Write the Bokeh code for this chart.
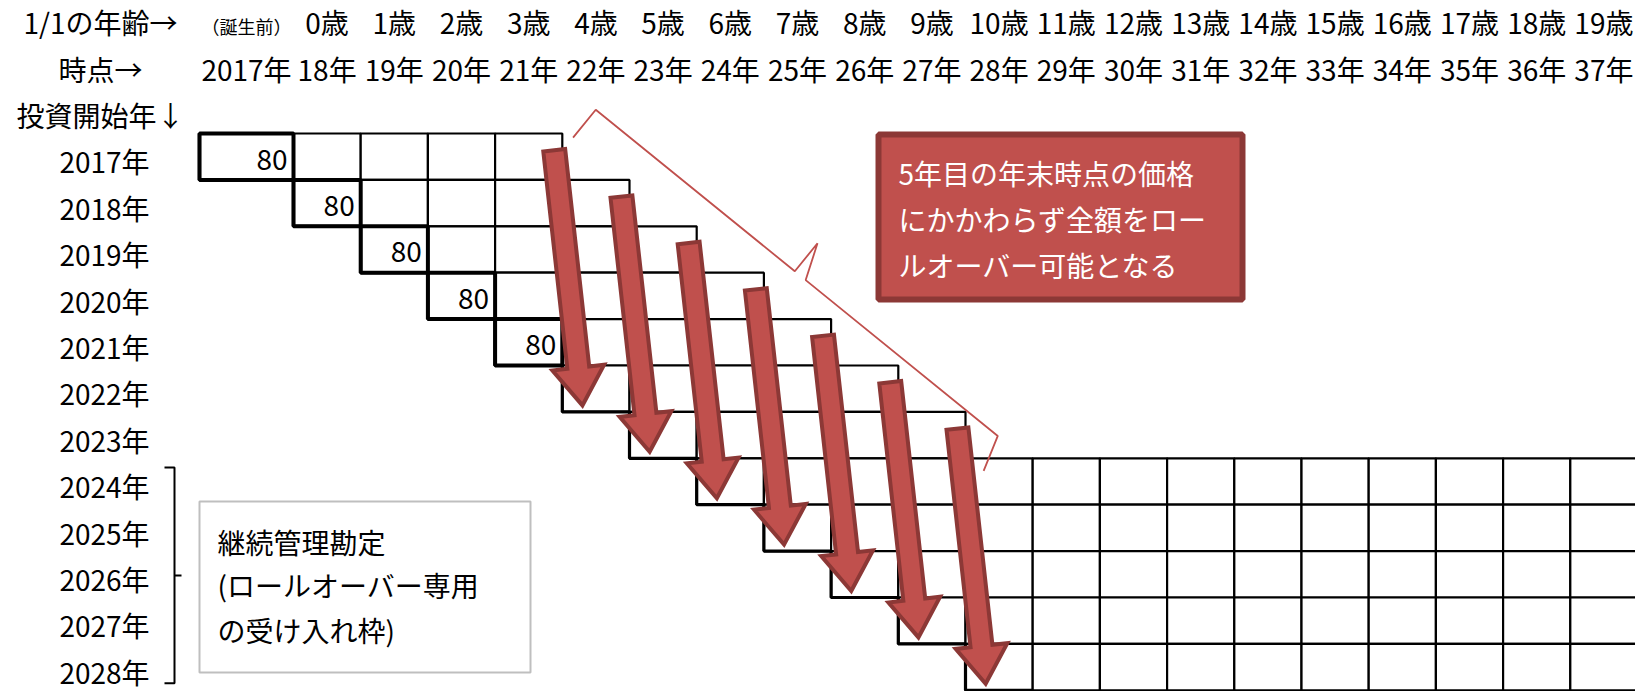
from bokeh.plotting import figure
from bokeh.models import Range1d
from bokeh.core.properties import value
from bokeh.embed import file_html
from bokeh.resources import INLINE
import math

# ---------------- data ----------------
time_labels = ["2017年", "18年", "19年", "20年", "21年", "22年", "23年", "24年", "25年",
               "26年", "27年", "28年", "29年", "30年", "31年", "32年", "33年", "34年",
               "35年", "36年", "37年"]
age_labels = ["（誕生前）", "0歳", "1歳", "2歳", "3歳", "4歳", "5歳", "6歳", "7歳", "8歳",
              "9歳", "10歳", "11歳", "12歳", "13歳", "14歳", "15歳", "16歳", "17歳",
              "18歳", "19歳"]
start_years = ["2017年", "2018年", "2019年", "2020年", "2021年", "2022年", "2023年",
               "2024年", "2025年", "2026年", "2027年", "2028年"]
invest_amounts = [80, 80, 80, 80, 80]          # 2017年〜2021年の投資額（万円）
holding_period = 5                              # 非課税期間（年）
rollover_starts = [0, 1, 2, 3, 4, 5, 6]         # ロールオーバーする投資開始年（行）
continuing_starts = [7, 8, 9, 10, 11]           # 継続管理勘定（2024年〜2028年）

header_left = ["1/1の年齢→", "時点→", "投資開始年↓"]
callout_lines = ["5年目の年末時点の価格", "にかかわらず全額をロー", "ルオーバー可能となる"]
account_lines = ["継続管理勘定", "(ロールオーバー専用", "の受け入れ枠)"]

# ---------------- layout ----------------
W, H = 1635, 691
PX_COL1, COL_W, COL0_W = 293.0, 67.2, 94.0
PX_ROW0, ROW_H = 133.0, 46.4
FONT = value("Noto Sans CJK JP")
RED, DARK_RED = "#C0504D", "#8C3836"


def px2x(px):
    return 1 + (px - PX_COL1) / COL_W


def py2y(py):
    return (py - PX_ROW0) / ROW_H


def x2px(x):
    return PX_COL1 + (x - 1) * COL_W


def y2py(y):
    return PX_ROW0 + y * ROW_H


def col_left(c):
    return 1 - COL0_W / COL_W if c == 0 else c


def col_right(c):
    return c + 1


def col_center(c):
    return (col_left(c) + col_right(c)) / 2


ncols = len(time_labels)

p = figure(width=W, height=H, output_backend="svg", toolbar_location=None,
           x_range=Range1d(px2x(0), px2x(W)),
           y_range=Range1d(py2y(H), py2y(0)),
           min_border=0, background_fill_color="white")
p.axis.visible = False
p.grid.visible = False
p.outline_line_color = None

# ---------------- header texts ----------------
TY = 0.6
p.text(x=[px2x(100)] * 3, y=[-3 + TY, -2 + TY, -1 + TY], text=header_left,
       text_font=FONT, text_font_size="28px", text_align="center",
       text_baseline="middle", text_color="black")

p.text(x=[col_center(0)], y=[-3 + TY + 0.08], text=[age_labels[0]], text_font=FONT,
       text_font_size="18px", text_align="center", text_baseline="middle")
p.text(x=[col_center(c) for c in range(1, ncols)], y=[-3 + TY] * (ncols - 1),
       text=age_labels[1:], text_font=FONT, text_font_size="28px",
       text_align="center", text_baseline="middle")
p.text(x=[col_center(c) for c in range(ncols)], y=[-2 + TY] * ncols,
       text=time_labels, text_font=FONT, text_font_size="28px",
       text_align="center", text_baseline="middle")

p.text(x=[px2x(104)] * len(start_years), y=[r + TY for r in range(len(start_years))],
       text=start_years, text_font=FONT, text_font_size="28px",
       text_align="center", text_baseline="middle")

# ---------------- grid cells ----------------
L, R, T, B = [], [], [], []
for r in range(len(start_years)):
    last = r + holding_period - 1 if r in rollover_starts else ncols - 1
    for c in range(r, min(last, ncols - 1) + 1):
        L.append(col_left(c)); R.append(col_right(c)); T.append(r); B.append(r + 1)
p.quad(left=L, right=R, top=T, bottom=B, fill_color="white",
       line_color="black", line_width=2.2)

# thick step edges (left edge and bottom of each row's first cell)
sx, sy = [], []
for r in range(len(start_years)):
    sx.append([col_left(r), col_left(r), col_right(r)])
    sy.append([r, r + 1, r + 1])
p.multi_line(xs=sx, ys=sy, line_color="black", line_width=3.2)

# initial investment cells
ir = list(range(len(invest_amounts)))
p.quad(left=[col_left(r) for r in ir], right=[col_right(r) for r in ir],
       top=ir, bottom=[r + 1 for r in ir], fill_color=None,
       line_color="black", line_width=4)
p.text(x=[col_right(r) - 6 / COL_W for r in ir], y=[r + 0.55 for r in ir],
       text=[str(v) for v in invest_amounts], text_font=FONT, text_font_size="28px",
       text_align="right", text_baseline="middle")

# ---------------- rollover arrows ----------------
axs, ays = [], []
for r in rollover_starts:
    tx, ty = x2px(col_left(r + holding_period - 1) + 0.88), y2py(r + 0.36)
    hx, hy = x2px(col_left(r + holding_period) + 0.3), y2py(r + holding_period + 0.86)
    dx, dy = hx - tx, hy - ty
    ln = math.hypot(dx, dy)
    dx, dy = dx / ln, dy / ln
    nx, ny = -dy, dx
    w, hw, hl = 11, 26, 38
    bx, by = hx - hl * dx, hy - hl * dy
    pts = [(tx + w * nx, ty + w * ny), (bx + w * nx, by + w * ny),
           (bx + hw * nx, by + hw * ny), (hx, hy),
           (bx - hw * nx, by - hw * ny), (bx - w * nx, by - w * ny),
           (tx - w * nx, ty - w * ny)]
    axs.append([px2x(a) for a, _ in pts])
    ays.append([py2y(b) for _, b in pts])
p.patches(xs=axs, ys=ays, fill_color=RED, line_color=DARK_RED, line_width=4,
          line_join="miter")

# ---------------- red curly brace ----------------
P0 = (x2px(col_left(holding_period) + 0.16), y2py(0.09))
P1 = (x2px(col_left(rollover_starts[-1] + holding_period) + 0.27), y2py(7.27))
ux, uy = P1[0] - P0[0], P1[1] - P0[1]
ul = math.hypot(ux, uy)
ux, uy = ux / ul, uy / ul
nx, ny = uy, -ux
M = ((P0[0] + P1[0]) / 2, (P0[1] + P1[1]) / 2)
d = 36
brace = [P0,
         (P0[0] + d * nx, P0[1] + d * ny),
         (M[0] - 8 * ux + d * nx, M[1] - 8 * uy + d * ny),
         (M[0] - 8 * ux + 2 * d * nx, M[1] - 8 * uy + 2 * d * ny),
         (M[0] + 6 * ux + d * nx, M[1] + 6 * uy + d * ny),
         (P1[0] - 11 * ux + d * nx, P1[1] - 11 * uy + d * ny),
         P1]
p.line(x=[px2x(a) for a, _ in brace], y=[py2y(b) for _, b in brace],
       line_color=RED, line_width=1.8)

# ---------------- red callout box ----------------
p.quad(left=[px2x(878)], right=[px2x(1242)], top=[py2y(134)], bottom=[py2y(299)],
       fill_color=RED, line_color=DARK_RED, line_width=6)
p.text(x=[px2x(898)] * 3, y=[py2y(172), py2y(218), py2y(264)], text=callout_lines,
       text_font=FONT, text_font_size="28px", text_align="left",
       text_baseline="middle", text_color="white")

# ---------------- black bracket for continuing account ----------------
bx_ = px2x(174)
y_top, y_bot = continuing_starts[0] + 0.2, continuing_starts[-1] + 0.85
y_mid = (y_top + y_bot) / 2
p.multi_line(xs=[[px2x(164), bx_, bx_, px2x(164)], [bx_, px2x(181)]],
             ys=[[y_top, y_top, y_bot, y_bot], [y_mid, y_mid]],
             line_color="black", line_width=2)

# ---------------- gray box ----------------
p.quad(left=[px2x(199)], right=[px2x(530)], top=[py2y(501)], bottom=[py2y(672)],
       fill_color="white", line_color="#BFBFBF", line_width=2)
p.text(x=[px2x(217)] * 3, y=[py2y(541), py2y(584), py2y(629)], text=account_lines,
       text_font=FONT, text_font_size="28px", text_align="left",
       text_baseline="middle", text_color="black")

open("out.html", "w").write(file_html(p, INLINE))
